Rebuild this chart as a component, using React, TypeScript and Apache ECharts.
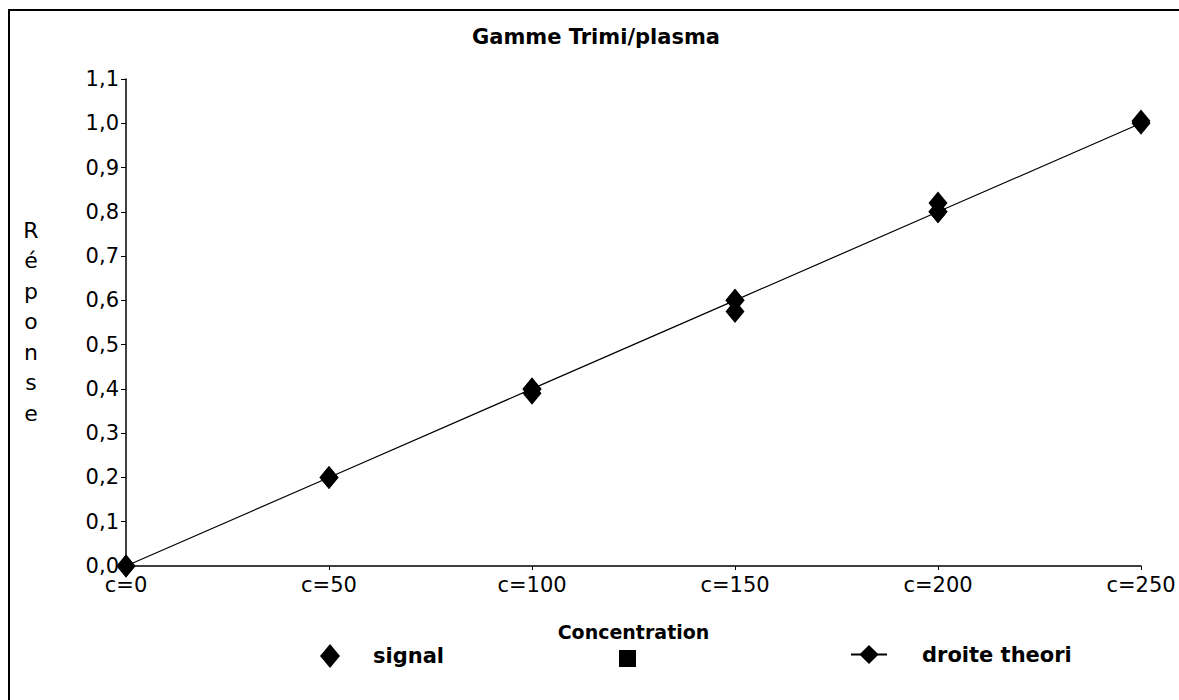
import React, { useEffect, useRef } from "react";
import * as echarts from "echarts";

const signalX = [0, 50, 100, 100, 150, 150, 200, 200, 250];
const signalY = [0, 0.2, 0.39, 0.4, 0.6, 0.575, 0.82, 0.8, 1.005];
const theoryX = [0, 50, 100, 150, 200, 250];
const theoryY = [0, 0.2, 0.4, 0.6, 0.8, 1.0];
const legendNames = ["signal", " ", "droite theori"];
const FONT = "'DejaVu Sans', 'Liberation Sans', Arial, sans-serif";

export default function App() {
  const ref = useRef<HTMLDivElement>(null);
  useEffect(() => {
    const chart = echarts.init(ref.current!, null, { renderer: "svg" });
    chart.setOption({
      animation: false,
      backgroundColor: "#fff",
      textStyle: { fontFamily: FONT, color: "#000" },
      title: {
        text: "Gamme Trimi/plasma",
        left: 591,
        top: 21,
        textAlign: "center",
        textStyle: { fontFamily: FONT, fontSize: 21, fontWeight: "bold", color: "#000" },
      },
      grid: { left: 126, right: 38, top: 79, bottom: 134 },
      xAxis: {
        type: "value",
        min: 0,
        max: 250,
        interval: 50,
        name: "Concentration",
        nameLocation: "middle",
        nameGap: 56,
        nameTextStyle: { fontFamily: FONT, fontSize: 19, fontWeight: "bold", color: "#000" },
        axisLine: { lineStyle: { color: "#000", width: 1.5 } },
        axisTick: { show: true, length: 4, lineStyle: { color: "#000" } },
        axisLabel: {
          formatter: (v: number) => "c=" + v,
          fontFamily: FONT,
          fontSize: 21,
          color: "#000",
          margin: 8,
        },
        splitLine: { show: false },
      },
      yAxis: {
        type: "value",
        min: 0,
        max: 1.1,
        interval: 0.1,
        axisLine: { show: true, lineStyle: { color: "#000", width: 1.5 } },
        axisTick: { show: true, length: 5, lineStyle: { color: "#000" } },
        axisLabel: {
          formatter: (v: number) => v.toFixed(1).replace(".", ","),
          fontFamily: FONT,
          fontSize: 21,
          color: "#000",
          margin: 7,
        },
        splitLine: { show: false },
      },
      legend: [
        {
          data: [{ name: legendNames[0], icon: "diamond", itemStyle: { opacity: 1 } }],
          left: 315,
          top: 639,
          itemWidth: 20,
          itemHeight: 24,
          textStyle: { fontFamily: FONT, fontSize: 21, fontWeight: "bold", color: "#000", padding: [0, 0, 0, 28] },
        },
        {
          data: [{ name: legendNames[1], icon: "rect", itemStyle: { opacity: 1 } }],
          left: 614,
          top: 643,
          itemWidth: 17,
          itemHeight: 17,
          textStyle: { fontFamily: FONT, fontSize: 21, color: "#000" },
        },
        {
          data: [{ name: legendNames[2] }],
          left: 845,
          top: 639,
          itemWidth: 36,
          itemHeight: 24,
          textStyle: { fontFamily: FONT, fontSize: 21, fontWeight: "bold", color: "#000", padding: [0, 0, 0, 30] },
        },
      ],
      series: [
        {
          name: legendNames[2],
          type: "line",
          data: theoryX.map((x, i) => [x, theoryY[i]]),
          symbol: "diamond",
          symbolSize: [19, 23],
          showSymbol: true,
          lineStyle: { color: "#000", width: 1.2 },
          itemStyle: { color: "#000", opacity: 1 },
          z: 2,
        },
        {
          name: legendNames[0],
          type: "scatter",
          data: signalX.map((x, i) => [x, signalY[i]]),
          symbol: "diamond",
          symbolSize: [19, 23],
          itemStyle: { color: "#000", opacity: 1 },
          z: 3,
        },
        {
          name: legendNames[1],
          type: "scatter",
          data: [],
          symbol: "rect",
          itemStyle: { color: "#000", opacity: 1 },
        },
      ],
      graphic: [
        {
          type: "rect",
          shape: { x: 9, y: 10, width: 1200, height: 720 },
          style: { fill: "none", stroke: "#000", lineWidth: 2 },
          silent: true,
        },
        {
          type: "text",
          x: 31,
          y: 215,
          style: {
            text: "R\né\np\no\nn\ns\ne",
            fontFamily: FONT,
            fontSize: 22,
            lineHeight: 30.5,
            align: "center",
            fill: "#000",
          },
        },
      ],
    });
    return () => chart.dispose();
  }, []);
  return (
    <div
      ref={ref}
      style={{ position: "fixed", left: 0, top: 0, width: 1179, height: 700, background: "#fff" }}
    />
  );
}
